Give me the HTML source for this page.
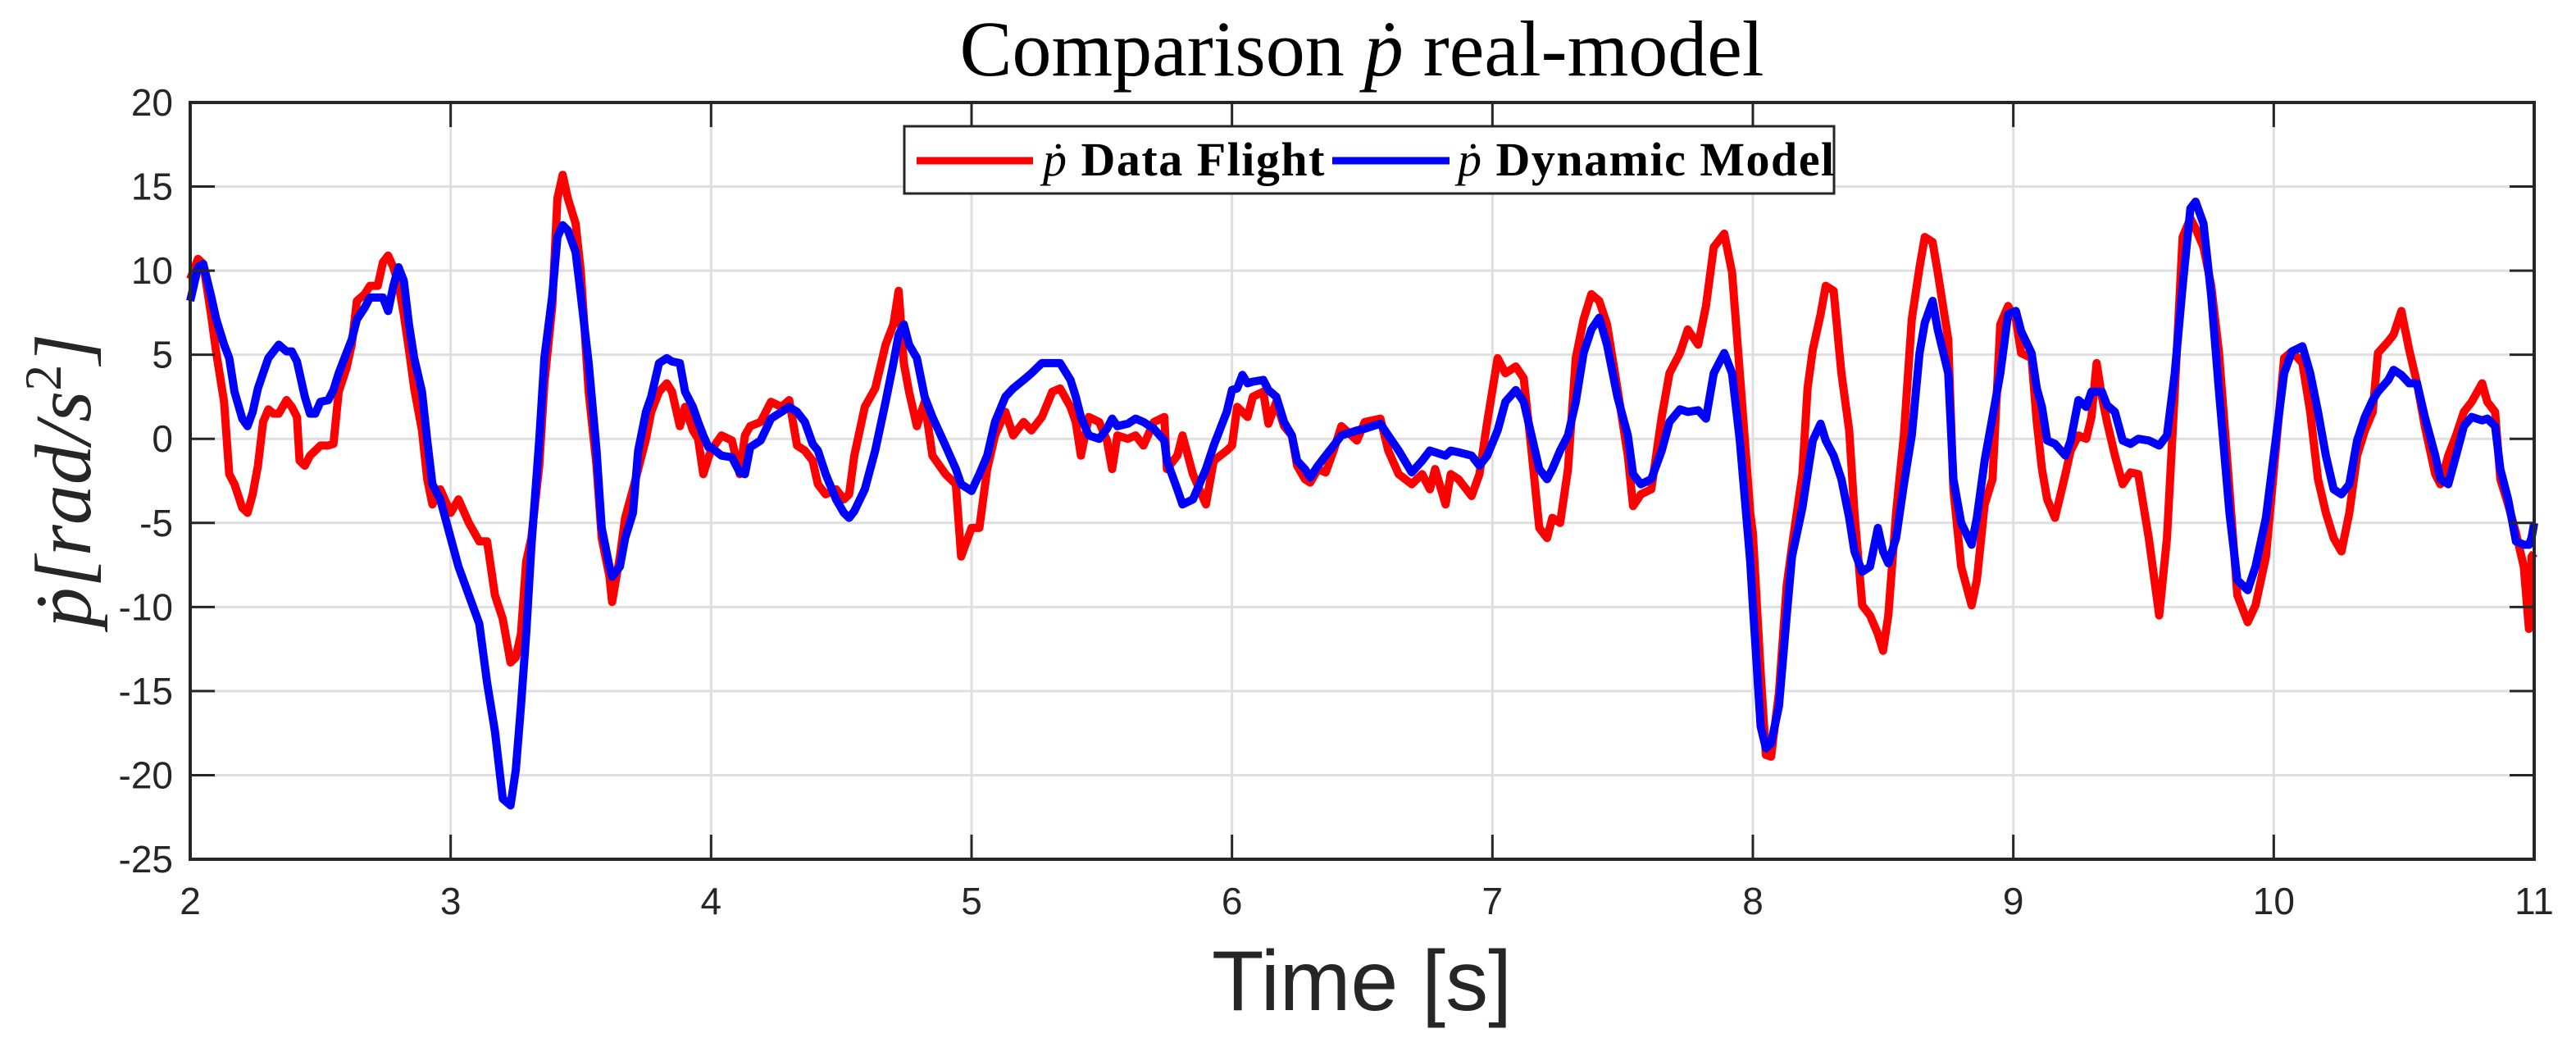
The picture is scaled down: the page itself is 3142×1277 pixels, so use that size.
<!DOCTYPE html>
<html><head><meta charset="utf-8"><style>
html,body{margin:0;padding:0;background:#fff;}
svg{display:block;}
</style></head><body>
<svg id="chart" width="3142" height="1277" viewBox="0 0 3142 1277" xmlns="http://www.w3.org/2000/svg">
<rect x="0" y="0" width="3142" height="1277" fill="#fff"/>
<g id="grid"></g>
<g id="series"></g>
<g id="axes"></g>
<text x="1661" y="92" text-anchor="middle" font-family="'Liberation Serif', serif" font-size="96" fill="#000">Comparison <tspan font-style="italic">ṗ</tspan> real-model</text>
<text x="1661" y="1232" text-anchor="middle" font-family="'Liberation Sans', sans-serif" font-size="104" fill="#262626">Time [s]</text>
<text transform="translate(110,586) rotate(-90)" text-anchor="middle" font-family="'Liberation Serif', serif" font-style="italic" font-size="98" fill="#262626">ṗ[rad/s<tspan dy="-36" font-size="64" font-style="normal">2</tspan><tspan dy="36">]</tspan></text>
<g>
<rect x="1103" y="154" width="1134" height="82" fill="#fff" stroke="#262626" stroke-width="3"/>
<line x1="1118" y1="196" x2="1260" y2="196" stroke="#ff0000" stroke-width="9"/>
<text x="1272" y="214" font-family="'Liberation Serif', serif" font-weight="bold" font-size="58" letter-spacing="1.5" fill="#000"><tspan font-style="italic" font-weight="normal">ṗ</tspan> Data Flight</text>
<line x1="1625" y1="196" x2="1768" y2="196" stroke="#0000ff" stroke-width="9"/>
<text x="1778" y="214" font-family="'Liberation Serif', serif" font-weight="bold" font-size="58" letter-spacing="1.5" fill="#000"><tspan font-style="italic" font-weight="normal">ṗ</tspan> Dynamic Model</text>
</g>
</svg>
<script>
const xTicks = [2,3,4,5,6,7,8,9,10,11];
const yTicks = [20,15,10,5,0,-5,-10,-15,-20,-25];
const timeS = [2.00,2.03,2.05,2.08,2.10,2.13,2.15,2.17,2.20,2.22,2.24,2.26,2.28,2.30,2.32,2.34,2.37,2.39,2.41,2.42,2.44,2.46,2.48,2.50,2.53,2.55,2.57,2.60,2.62,2.64,2.67,2.69,2.72,2.74,2.76,2.78,2.80,2.82,2.84,2.86,2.89,2.91,2.93,2.96,3.00,3.03,3.07,3.11,3.14,3.17,3.20,3.23,3.25,3.27,3.29,3.31,3.34,3.36,3.39,3.41,3.43,3.45,3.48,3.50,3.53,3.56,3.58,3.61,3.62,3.65,3.67,3.70,3.72,3.75,3.77,3.80,3.83,3.85,3.88,3.90,3.93,3.95,3.97,3.99,
4.00,4.04,4.08,4.11,4.13,4.15,4.19,4.23,4.27,4.30,4.33,4.36,4.39,4.41,4.44,4.48,4.51,4.53,4.55,4.59,4.63,4.67,4.70,4.72,4.74,4.76,4.79,4.82,4.85,4.90,4.94,4.96,5.00,5.03,5.06,5.09,5.13,5.16,5.20,5.23,5.27,5.31,5.34,5.38,5.40,5.42,5.45,5.49,5.52,5.54,5.56,5.60,5.63,5.66,5.70,5.74,5.75,5.79,5.81,5.85,5.90,5.93,5.98,
6.00,6.02,6.04,6.06,6.08,6.12,6.14,6.17,6.20,6.23,6.25,6.28,6.30,6.33,6.36,6.39,6.42,6.48,6.51,6.57,6.60,6.64,6.69,6.73,6.76,6.78,6.82,6.84,6.87,6.92,6.95,6.98,7.02,7.05,7.09,7.12,7.15,7.18,7.21,7.23,7.26,7.29,7.32,7.35,7.38,7.41,7.44,7.48,7.52,7.54,7.57,7.61,7.65,7.68,7.72,7.75,7.79,7.82,7.85,7.89,7.92,7.95,7.99,
8.00,8.03,8.05,8.07,8.10,8.13,8.15,8.19,8.21,8.23,8.26,8.28,8.31,8.34,8.37,8.39,8.42,8.45,8.48,8.50,8.52,8.55,8.58,8.61,8.64,8.66,8.69,8.71,8.75,8.77,8.80,8.84,8.86,8.89,8.92,8.95,8.98,9.01,9.03,9.07,9.09,9.11,9.13,9.16,9.20,9.22,9.25,9.28,9.30,9.32,9.34,9.36,9.39,9.42,9.45,9.48,9.52,9.56,9.59,9.62,9.65,9.68,9.70,9.73,9.76,9.79,9.83,9.86,9.90,9.93,9.97,
10.04,10.07,10.11,10.14,10.17,10.20,10.23,10.26,10.29,10.32,10.35,10.38,10.40,10.44,10.46,10.49,10.52,10.55,10.58,10.62,10.64,10.67,10.70,10.73,10.76,10.80,10.82,10.85,10.87,10.90,10.93,10.96,10.98,10.99,11.00];
const redV = [9.5,10.7,10.4,7.4,5.1,2.2,-2.1,-2.7,-4.1,-4.4,-3.3,-1.6,1.0,1.75,1.5,1.5,2.3,1.9,1.3,-1.3,-1.6,-1.0,-0.7,-0.4,-0.4,-0.3,2.8,4.2,5.6,8.2,8.6,9.1,9.1,10.5,10.9,10.2,9.2,7.4,5.3,3.0,0.5,-2.4,-3.9,-3.0,-4.4,-3.6,-5.0,-6.1,-6.1,-9.3,-10.7,-13.3,-13.0,-11.6,-7.3,-5.9,-1.6,3.3,7.9,14.3,15.7,14.3,12.8,9.9,2.8,-1.6,-5.9,-8.2,-9.7,-7.0,-4.7,-3.0,-1.8,0,1.6,2.8,3.3,2.8,0.75,1.9,0.5,0,-2.1,-1.1,
-0.7,0.2,-0.1,-2.1,0.2,0.75,1.0,2.2,1.9,2.3,-0.4,-0.7,-1.3,-2.7,-3.3,-3.0,-3.6,-3.3,-1.0,1.9,3.0,5.6,6.8,8.8,4.5,2.8,0.75,2.2,-1.0,-2.1,-2.7,-7.0,-5.3,-5.3,-1.8,0.2,1.6,0.2,1.0,0.5,1.3,2.8,3.0,1.9,1.0,-1.0,1.3,1.0,-0.1,-1.8,0.2,0,0.2,-0.4,1.0,1.3,-1.8,-1.0,0.2,-2.1,-3.9,-1.3,-0.7,
-0.4,1.9,1.6,1.3,2.5,2.8,0.9,2.2,0.75,0.2,-1.6,-2.4,-2.6,-1.8,-2.0,-0.7,0.75,-0.1,1.0,1.2,-0.7,-2.1,-2.7,-2.1,-3.0,-1.8,-3.9,-2.1,-2.4,-3.4,-2.1,1.0,4.8,3.9,4.3,3.6,-0.7,-5.3,-5.9,-4.7,-5.0,-1.8,4.8,7.1,8.6,8.2,6.8,3.0,-1.0,-4.0,-3.3,-3.0,1.3,3.9,5.1,6.5,5.6,7.9,11.4,12.2,9.9,3.9,-4.4,
-5.6,-13.9,-18.8,-18.9,-15.1,-8.7,-6.4,-2.1,3.0,5.3,7.4,9.1,8.8,3.9,0.5,-4.4,-9.9,-10.5,-11.6,-12.6,-10.5,-4.4,0.2,7.1,10.2,12.0,11.7,9.9,5.9,-3.0,-7.6,-9.9,-8.4,-3.9,-2.4,6.8,7.9,7.1,5.1,4.8,1.0,-1.8,-3.6,-4.7,-2.1,-0.7,0.2,0,1.3,4.5,2.5,1.0,-1.0,-2.7,-2.0,-2.1,-5.9,-10.5,-5.9,2.8,12.0,13.1,12.5,11.4,9.1,5.1,-3.0,-9.3,-10.9,-9.9,-7.0,
4.8,5.2,4.5,1.6,-2.4,-4.4,-5.9,-6.7,-4.4,-1.0,0.5,1.6,5.1,5.8,6.2,7.6,5.3,3.3,0.75,-2.1,-2.7,-1.0,0.2,1.6,2.2,3.3,2.2,1.6,-2.4,-3.9,-5.6,-7.6,-11.3,-7.0,-6.8];
const blueV = [8.2,10.2,10.4,8.5,7.1,5.6,4.8,2.8,1.2,0.75,1.6,3.0,3.9,4.8,5.2,5.6,5.2,5.2,4.6,3.9,2.5,1.5,1.5,2.2,2.3,2.9,3.9,5.1,5.9,7.1,7.8,8.4,8.4,8.4,7.6,9.1,10.2,9.4,6.8,4.8,2.8,-0.1,-2.7,-3.6,-5.9,-7.6,-9.3,-11.0,-14.5,-17.4,-21.4,-21.8,-19.7,-15.9,-11.6,-6.4,-0.1,4.8,8.5,12.0,12.7,12.4,11.1,8.5,4.5,-0.7,-5.3,-7.6,-8.2,-7.6,-5.9,-4.4,-0.7,1.6,2.5,4.5,4.8,4.6,4.5,2.8,1.9,1.0,0.2,-0.5,
-0.5,-1.0,-1.1,-2.0,-2.1,-0.5,-0.1,1.2,1.6,1.9,1.6,1.0,-0.3,-0.7,-2.1,-3.6,-4.4,-4.7,-4.3,-3.0,-0.7,2.2,4.5,6.2,6.8,5.6,4.8,2.5,1.3,-0.4,-1.8,-2.7,-3.1,-2.1,-1.0,1.0,2.5,3.0,3.5,3.9,4.5,4.5,4.5,3.5,2.5,1.3,0.2,0,0.6,1.2,0.75,0.9,1.2,1.0,0.6,-0.1,-1.3,-3.0,-3.9,-3.6,-1.8,-0.4,1.6,
2.9,3.0,3.8,3.3,3.4,3.5,2.9,2.5,1.0,0.2,-1.3,-1.8,-2.3,-1.6,-1.0,-0.4,0.2,0.5,0.6,0.9,0.2,-0.7,-2.0,-1.3,-0.7,-0.8,-1.0,-0.7,-0.8,-1.0,-1.6,-1.0,0.5,2.2,2.9,2.2,0.2,-1.8,-2.4,-1.8,-0.7,0.2,2.2,5.1,6.5,7.2,5.6,2.5,0.2,-2.1,-2.7,-2.4,-0.7,1.0,1.75,1.6,1.7,1.2,3.9,5.1,3.9,-0.1,-7.3,
-9.9,-17.1,-18.4,-18.1,-15.9,-10.5,-7.0,-4.1,-2.1,-0.1,0.9,-0.1,-1.0,-2.4,-4.7,-6.7,-7.9,-7.6,-5.3,-6.7,-7.4,-5.9,-2.7,0.2,5.1,6.9,8.2,6.5,3.9,-2.4,-5.0,-6.3,-4.7,-1.3,1.3,3.9,7.4,7.6,6.4,5.1,3.0,1.9,-0.1,-0.3,-1.0,-0.1,2.3,1.9,2.8,2.8,2.8,2.0,1.6,-0.1,-0.3,0,-0.1,-0.4,0.2,3.9,9.1,13.7,14.1,12.8,8.5,2.8,-4.4,-8.4,-9.0,-7.6,-4.7,
3.9,5.2,5.5,3.9,1.6,-1.0,-3.0,-3.3,-2.7,-0.1,1.3,2.3,2.8,3.5,4.1,3.8,3.3,3.3,1.3,-1.0,-2.4,-2.7,-1.0,0.75,1.3,1.1,1.2,0.75,-1.8,-3.6,-6.1,-6.3,-6.3,-5.9,-5.0];

const L=232,R=3091,T=125,B=1048;
const xMin=2,xMax=11,yMin=-25,yMax=20;
function xs(v){return L+(v-xMin)/(xMax-xMin)*(R-L);}
function ys(v){return T+(yMax-v)/(yMax-yMin)*(B-T);}
const NS='http://www.w3.org/2000/svg';
function mk(tag,attrs,parent){const e=document.createElementNS(NS,tag);for(const k in attrs)e.setAttribute(k,attrs[k]);parent.appendChild(e);return e;}
const grid=document.getElementById('grid');
const axes=document.getElementById('axes');
const series=document.getElementById('series');
xTicks.forEach(v=>{
  const g=mk('line',{x1:xs(v),x2:xs(v),y1:T,y2:B,stroke:'#dfdfdf','stroke-width':3},grid);
  
  
  const t1=mk('line',{x1:xs(v),x2:xs(v),y1:B,y2:B-30,stroke:'#262626','stroke-width':3},axes);
  
  
  const t2=mk('line',{x1:xs(v),x2:xs(v),y1:T,y2:T+30,stroke:'#262626','stroke-width':3},axes);
  
  
  const lb=mk('text',{x:xs(v),y:1115,'text-anchor':'middle','font-family':"'Liberation Sans', sans-serif",'font-size':46,fill:'#262626'},axes);
  lb.textContent=v;
  
  
});
yTicks.forEach(v=>{
  const g=mk('line',{x1:L,x2:R,y1:ys(v),y2:ys(v),stroke:'#dfdfdf','stroke-width':3},grid);
  
  
  const t1=mk('line',{x1:L,x2:L+30,y1:ys(v),y2:ys(v),stroke:'#262626','stroke-width':3},axes);
  
  
  const t2=mk('line',{x1:R,x2:R-30,y1:ys(v),y2:ys(v),stroke:'#262626','stroke-width':3},axes);
  
  
  const lb=mk('text',{x:211,y:ys(v)+16,'text-anchor':'end','font-family':"'Liberation Sans', sans-serif",'font-size':46,fill:'#262626'},axes);
  lb.textContent=v;
  
  
});
const frame=mk('rect',{x:L,y:T,width:R-L,height:B-T,fill:'none',stroke:'#262626','stroke-width':4},axes);


function path(ts,vs){const n=Math.min(ts.length,vs.length);let d='';for(let i=0;i<n;i++){d+=(i?'L':'M')+xs(ts[i]).toFixed(1)+' '+ys(vs[i]).toFixed(1)+' ';}return d;}
const pr=mk('path',{d:path(timeS,redV),fill:'none',stroke:'#ff0000','stroke-width':10,'stroke-linejoin':'round'},series);


const pb=mk('path',{d:path(timeS,blueV),fill:'none',stroke:'#0000ff','stroke-width':10,'stroke-linejoin':'round'},series);


</script>
</body></html>
